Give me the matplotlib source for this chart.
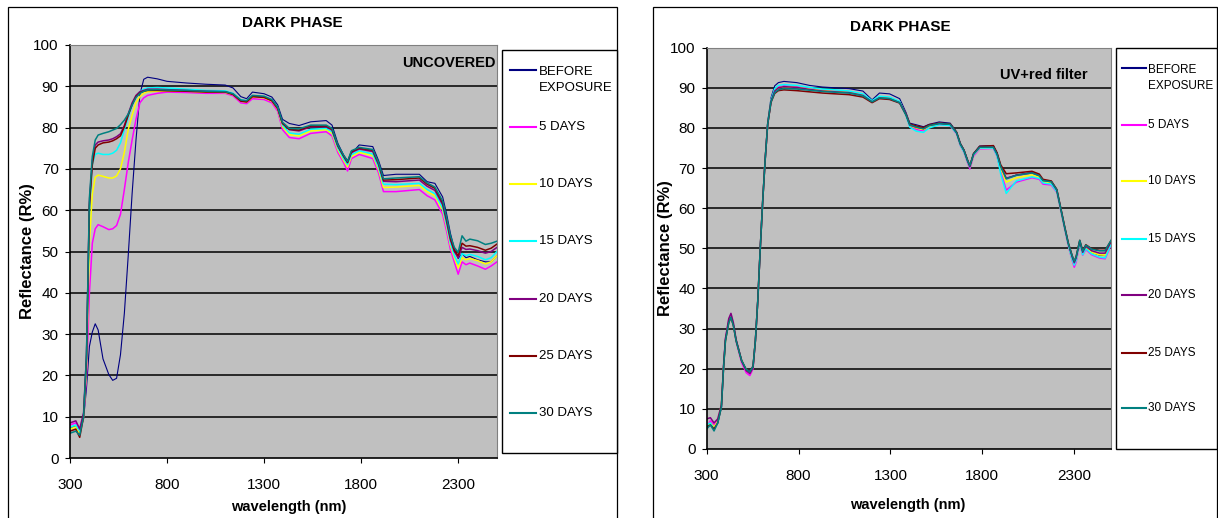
import matplotlib
matplotlib.use('Agg')
import matplotlib.pyplot as plt
from matplotlib.patches import Rectangle
from matplotlib.lines import Line2D

W, H = 1218, 518
FONT = ['Liberation Sans', 'DejaVu Sans']

TITLE = 'DARK PHASE'
X_LABEL = 'wavelength (nm)'
Y_LABEL = 'Reflectance (R%)'
LABELS = ['BEFORE\nEXPOSURE', '5 DAYS', '10 DAYS', '15 DAYS', '20 DAYS', '25 DAYS', '30 DAYS']
COLORS = ['#000080', '#FF00FF', '#FFFF00', '#00FFFF', '#800080', '#800000', '#008080']
X_TICKS = [300, 800, 1300, 1800, 2300]
Y_TICKS = [0, 10, 20, 30, 40, 50, 60, 70, 80, 90, 100]

# ---- left panel: uncovered ----
L_WL = [300, 330, 350, 370, 385, 400, 415, 430, 445, 470, 500, 520, 540, 560, 580, 600,
        620, 640, 660, 680, 700, 750, 800, 900, 1000, 1100, 1140, 1180, 1210, 1240, 1300,
        1340, 1370, 1395, 1430, 1480, 1540, 1620, 1650, 1680, 1710, 1730, 1750, 1790, 1860,
        1890, 1915, 1980, 2100, 2140, 2180, 2220, 2240, 2260, 2280, 2300, 2320, 2340, 2360,
        2400, 2440, 2470, 2500]
L_BEFORE = [7.5, 7.5, 6.5, 9.5, 17, 27, 30.5, 32.5, 31, 24, 20.2, 18.8, 19.3, 25, 35, 49,
            64, 77, 88, 91.7, 92.2, 91.8, 91.2, 90.8, 90.5, 90.3, 89.6, 87.5, 87, 88.6, 88.2,
            87.4, 85.5, 82, 81, 80.5, 81.4, 81.7, 80.6, 76.2, 73.3, 72, 73.7, 75.8, 75.4,
            72, 68.4, 68.7, 68.7, 66.9, 66.5, 63.2, 59.2, 54.4, 50.7, 48.3, 49.5, 48.5, 48.8,
            48, 47.5, 47.5, 49]
L_D5 = [8, 8.5, 6.5, 10, 20, 40, 52, 55.5, 56.5, 56, 55.3, 55.5, 56.3, 59, 65, 71.5,
        77, 82, 86, 87.2, 87.8, 88.3, 88.6, 88.5, 88.3, 88.3, 87.7, 86, 85.8, 87, 86.8,
        86, 84, 79.5, 77.6, 77.3, 78.6, 79, 78, 74, 71.5, 69.5, 72.5, 73.5, 72.5,
        69, 64.5, 64.5, 65, 63.5, 62.5, 59, 55, 50.5, 47.5, 44.5, 47.5, 46.8, 47.2,
        46.5, 45.7, 46.5, 47.5]
L_D10 = [7, 7.5, 6, 10, 22, 52, 64, 68, 68.5, 68.2, 67.8, 67.8, 68.3, 70, 74, 79.5,
         83, 86, 87.5, 88.3, 88.7, 88.8, 88.9, 88.8, 88.6, 88.5, 88, 86.4, 86.2, 87.4, 87.2,
         86.4, 84.5, 80.2, 78.3, 78, 79.2, 79.5, 78.6, 74.6, 72, 70.5, 73, 74, 73.2,
         69.8, 65.5, 65.6, 66, 64.5, 63.5, 60, 56, 51.5, 48.5, 46, 48.5, 48, 48.3,
         47.8, 47, 47.5, 49]
L_D15 = [7.5, 8, 6.5, 10.5, 24, 60, 71, 73.5, 73.8, 73.5, 73.5, 73.8, 74.5, 76.3, 79.5, 82.5,
         85.5, 87.5, 88.7, 89.3, 89.6, 89.7, 89.6, 89.3, 89, 88.9, 88.3, 86.7, 86.5, 87.7, 87.5,
         86.7, 84.8, 80.6, 78.7, 78.4, 79.6, 79.8, 79, 75, 72.4, 71, 73.4, 74.4, 73.6,
         70.3, 66.3, 66.2, 66.5, 65, 64, 60.5, 56.5, 52, 49, 47, 49.5, 49, 49.3,
         48.8, 48, 48.5, 50]
L_D20 = [8.5, 9, 7, 11, 25, 62, 72, 75.8, 76.5, 76.8, 77, 77.3, 77.8, 78.5, 80.5, 83.3,
         86, 87.8, 88.7, 89, 89.3, 89.3, 89.2, 89, 88.8, 88.7, 88.1, 86.5, 86.3, 87.6, 87.4,
         86.6, 84.7, 81, 79.5, 79.2, 80.2, 80.2, 79.4, 75.5, 73, 71.5, 74, 74.8, 74.2,
         71, 67, 66.9, 67.3, 65.8, 64.8, 61.3, 57.3, 52.8, 50, 48.5, 51, 50.5, 50.6,
         50.2, 49.6, 50, 51]
L_D25 = [6.5, 7, 5, 10, 24, 61, 71, 75, 75.8, 76.3, 76.5, 76.8, 77.3, 78, 80.2, 83,
         85.5, 87.5, 88.4, 88.8, 89, 89, 88.9, 88.8, 88.6, 88.6, 88, 86.4, 86.2, 87.5, 87.3,
         86.5, 84.6, 81, 79.6, 79.4, 80.4, 80.4, 79.6, 75.6, 73.1, 71.6, 74.2, 75, 74.5,
         71.3, 67.3, 67.4, 67.8, 66.3, 65.3, 61.8, 57.8, 53.2, 50.3, 49, 52, 51.3, 51.4,
         51, 50.3, 50.8, 51.8]
L_D30 = [6, 6.5, 5.5, 10, 25, 63, 73, 77, 78.2, 78.6, 79, 79.4, 79.8, 80.7, 81.8, 83.3,
         85.5, 87.3, 88.3, 88.8, 89.1, 89.2, 89.1, 89, 88.8, 88.7, 88.2, 86.7, 86.5, 87.8, 87.6,
         86.8, 84.9, 81.3, 79.8, 79.7, 80.6, 80.6, 79.8, 75.8, 73.3, 71.8, 74.4, 75.2, 74.7,
         71.5, 67.6, 67.8, 68.1, 66.6, 65.6, 62.2, 58.3, 53.8, 51, 49.8, 53.8, 52.5, 53,
         52.6, 51.7, 52, 52.5]

# ---- right panel: UV+red filter ----
R_WL = [300, 320, 340, 360, 380, 392, 402, 420, 432, 445, 460, 490, 515, 535, 552, 565,
        578, 592, 605, 618, 632, 650, 670, 690, 720, 790, 860, 930, 1000, 1075, 1150, 1200,
        1240, 1295, 1350, 1385, 1405, 1440, 1480, 1510, 1565, 1625, 1660, 1680, 1700, 1720,
        1732, 1752, 1785, 1860, 1880, 1900, 1930, 1985, 2070, 2110, 2130, 2175, 2205, 2225,
        2248, 2268, 2290, 2300, 2310, 2330, 2346, 2363, 2395, 2437, 2468, 2500]
R_BEFORE = [6, 6.5, 5.5, 6.5, 10.5, 20.5, 27, 31.8, 33, 31, 27.2, 22.2, 19.8, 19.3, 20.8, 27.5,
            37.5, 51, 62.5, 72.5, 81.5, 87.5, 90.5, 91.3, 91.6, 91.3, 90.6, 90.2, 90, 89.8, 89.2, 87,
            88.7, 88.5, 87.3, 83.8, 81.2, 80.8, 80.3, 80.9, 81.5, 81.2, 79, 76.2, 74.5, 72,
            70.5, 73.6, 75.5, 75.6, 73.8, 70.5, 67.4, 68.3, 68.9, 68.2, 67, 66.7, 64.6, 60.3,
            55.2, 51, 47.6, 46.5, 47.5, 51.6, 48.8, 50.3, 49, 48.3, 48.2, 51.2]
R_D5 = [5.5, 7, 6, 7, 10.5, 20.5, 27.5, 32, 33.5, 31, 26.8, 21.5, 19, 18.3, 20, 27,
        37, 50.5, 62, 72, 81, 86.8, 89.3, 90.2, 90.5, 90.3, 89.8, 89.4, 89.2, 89, 88.3, 86.6,
        87.6, 87.4, 86.4, 83.2, 80.5, 79.6, 79.3, 80.2, 80.9, 80.6, 78.5, 75.6, 74, 71.3,
        69.8, 73, 74.8, 74.9, 73, 69.2, 64.5, 66.5, 67.6, 67.2, 66, 65.8, 64, 59.8,
        54.8, 50.5, 46.8, 45.3, 46.5, 51.2, 48.3, 49.7, 48.4, 47.6, 47.4, 50.8]
R_D10 = [5.5, 6.5, 5.5, 6.8, 11, 20.5, 27, 31.7, 33, 31, 27, 22, 19.7, 19, 20.5, 27,
         37, 50.5, 62, 72, 81, 86.8, 89.3, 90, 90.3, 90.1, 89.7, 89.3, 89.1, 88.9, 88.2, 86.6,
         87.6, 87.4, 86.4, 83.2, 80.6, 80, 79.6, 80.4, 81, 80.8, 78.7, 75.8, 74.2, 71.6,
         70.2, 73.3, 75, 75.1, 73.3, 70, 66.5, 67.6, 68.3, 67.8, 66.6, 66.3, 64.3, 60,
         55, 50.8, 47.2, 46, 47.2, 51.5, 48.7, 50.2, 49, 48.4, 48.3, 51.4]
R_D15 = [6, 6.5, 5, 6.5, 10.5, 20.5, 27, 31.7, 33, 31, 27, 22, 19.8, 19.2, 20.5, 27,
         37, 50.5, 62, 72, 81.2, 87, 89.8, 90.6, 90.8, 90.6, 90.1, 89.7, 89.5, 89.2, 88.5, 86.8,
         87.9, 87.7, 86.6, 83, 80.2, 79.2, 78.9, 80, 80.8, 80.6, 78.6, 75.7, 74, 71.5,
         70.2, 73.3, 75, 75, 73, 68.5, 63.7, 66.8, 67.8, 67.4, 66.3, 66, 64.1, 59.9,
         54.9, 50.7, 47, 45.8, 47, 51.4, 48.4, 49.9, 48.6, 47.8, 47.6, 51]
R_D20 = [7.5, 7.8, 6.5, 7.5, 11, 21, 27.5, 32.5, 33.8, 31.5, 27.3, 22, 19.5, 18.8, 20.3, 27,
         37, 50.5, 62, 72, 81, 86.7, 89.2, 90, 90.3, 90.1, 89.6, 89.2, 89, 88.8, 88.1, 86.5,
         87.5, 87.3, 86.3, 83.3, 80.7, 80.2, 79.8, 80.6, 81.1, 80.9, 78.8, 76, 74.4, 71.7,
         70.3, 73.5, 75.2, 75.2, 73.5, 70.4, 67.5, 68.2, 68.8, 68.1, 66.9, 66.6, 64.5, 60.2,
         55.2, 51.1, 47.7, 46.4, 47.6, 51.8, 49, 50.5, 49.4, 48.8, 48.8, 51.6]
R_D25 = [5.5, 6, 5, 6.5, 10.5, 20.5, 27, 31.5, 32.8, 30.8, 27, 22, 19.8, 19.3, 20.5, 27,
         37, 50.5, 62, 72, 81, 86.4, 88.6, 89.3, 89.5, 89.3, 89, 88.7, 88.5, 88.3, 87.7, 86.3,
         87.3, 87.1, 86.2, 83.3, 81, 80.5, 80.1, 80.8, 81.2, 81, 78.9, 76.1, 74.5, 71.9,
         70.6, 73.6, 75.4, 75.6, 73.8, 70.8, 68.6, 68.8, 69.2, 68.5, 67.2, 66.8, 64.7, 60.4,
         55.4, 51.3, 48, 46.8, 47.9, 52, 49.4, 50.9, 49.9, 49.5, 49.5, 51.9]
R_D30 = [5, 6, 4.5, 6.5, 10.5, 20.5, 27, 31.5, 32.8, 30.8, 27, 22, 19.8, 19.2, 20.5, 27,
         37, 50.5, 62, 72, 81, 86.5, 88.8, 89.5, 89.8, 89.7, 89.4, 89.1, 88.9, 88.7, 88, 86.5,
         87.5, 87.3, 86.3, 83.2, 80.8, 80.2, 79.8, 80.6, 81.1, 80.9, 78.8, 76, 74.4, 71.8,
         70.6, 73.5, 75.2, 75.2, 73.5, 70.4, 67.3, 68.2, 68.8, 68.1, 66.9, 66.6, 64.6, 60.3,
         55.3, 51.2, 48, 46.8, 47.8, 52, 49.3, 50.8, 49.8, 49.4, 49.4, 52]

L_SERIES = [L_BEFORE, L_D5, L_D10, L_D15, L_D20, L_D25, L_D30]
R_SERIES = [R_BEFORE, R_D5, R_D10, R_D15, R_D20, R_D25, R_D30]


def fx(x):
    return x / W


def fy(y):
    return 1 - y / H


fig = plt.figure(figsize=(W / 100, H / 100), dpi=100)
fig.patch.set_facecolor('white')


def panel(wl, series, tag, plot_box, frame_box, legend_box, leg_x, leg_ys, leg_size,
          title_xy, xlabel_xy, ylabel_xy, tag_xy):
    x0, y0, x1, y1 = plot_box
    ax = fig.add_axes([fx(x0), fy(y1), (x1 - x0) / W, (y1 - y0) / H])
    ax.set_facecolor('#C0C0C0')
    for s, c in zip(series, COLORS):
        lw = 0.8 if c == '#000080' else 1.1
        ax.plot(wl, s, color=c, lw=lw)
    ax.set_xlim(300, 2500)
    ax.set_ylim(0, 100)
    ax.set_xticks(X_TICKS)
    ax.set_yticks(Y_TICKS)
    ax.tick_params(axis='both', direction='out', length=3.6, width=0.8, colors='black',
                   labelsize=11)
    ax.tick_params(axis='x', pad=10.5)
    ax.tick_params(axis='y', pad=4.5)
    for lab in ax.get_xticklabels() + ax.get_yticklabels():
        lab.set_family(FONT)
    for v in Y_TICKS[1:-1]:
        ax.axhline(v, color='black', lw=1.1, zorder=1)
    ax.spines['left'].set_linewidth(1.2)
    ax.spines['bottom'].set_linewidth(1.2)
    ax.spines['top'].set_color('#808080')
    ax.spines['right'].set_color('#808080')

    # outer chart frame
    fx0, fy0, fx1, fy1 = frame_box
    fig.add_artist(Rectangle((fx(fx0), fy(fy1)), (fx1 - fx0) / W, (fy1 - fy0) / H,
                             transform=fig.transFigure, fill=False, ec='black', lw=0.9))
    # legend box
    lx0, ly0, lx1, ly1 = legend_box
    fig.add_artist(Rectangle((fx(lx0), fy(ly1)), (lx1 - lx0) / W, (ly1 - ly0) / H,
                             transform=fig.transFigure, fc='white', ec='black', lw=1.0))
    for lab, c, yy in zip(LABELS, COLORS, leg_ys):
        fig.add_artist(Line2D([fx(leg_x[0]), fx(leg_x[1])], [fy(yy), fy(yy)],
                              transform=fig.transFigure, color=c, lw=1.5))
        ty = yy + 10 if '\n' in lab else yy
        fig.text(fx(leg_x[2]), fy(ty), lab, ha='left', va='center', fontsize=leg_size,
                 family=FONT, linespacing=1.5)

    fig.text(fx(title_xy[0]), fy(title_xy[1]), TITLE, ha='center', va='center',
             fontsize=11, fontweight='bold', family=FONT)
    fig.text(fx(xlabel_xy[0]), fy(xlabel_xy[1]), X_LABEL, ha='center', va='center',
             fontsize=10.5, fontweight='bold', family=FONT)
    fig.text(fx(ylabel_xy[0]), fy(ylabel_xy[1]), Y_LABEL, ha='center', va='center',
             rotation=90, fontsize=12, fontweight='bold', family=FONT)
    fig.text(fx(tag_xy[0]), fy(tag_xy[1]), tag, ha='right', va='center',
             fontsize=10.5, fontweight='bold', family=FONT)
    return ax


panel(L_WL, L_SERIES, 'UNCOVERED',
      plot_box=(70, 45, 497, 458), frame_box=(8, 7, 617, 540),
      legend_box=(502, 50, 617, 453), leg_x=(510, 536, 539),
      leg_ys=[70, 127, 184, 241, 299, 356, 413], leg_size=9.5,
      title_xy=(292, 23), xlabel_xy=(289, 507), ylabel_xy=(28, 251), tag_xy=(496, 63))

panel(R_WL, R_SERIES, 'UV+red filter',
      plot_box=(706.7, 47.7, 1111, 449), frame_box=(653.3, 7.3, 1216.7, 540),
      legend_box=(1115.7, 48.3, 1217, 449), leg_x=(1121.7, 1145.7, 1148),
      leg_ys=[68, 125, 181, 239, 295, 353, 408], leg_size=8.5,
      title_xy=(900, 27), xlabel_xy=(908, 505), ylabel_xy=(665, 248), tag_xy=(1088, 75))

fig.savefig('out.png', dpi=100)
